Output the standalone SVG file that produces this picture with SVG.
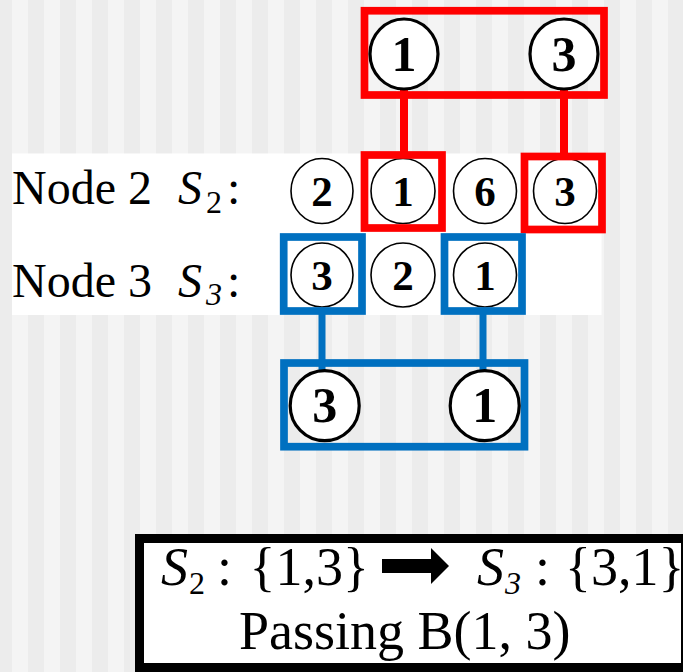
<svg xmlns="http://www.w3.org/2000/svg" width="683" height="672" viewBox="0 0 683 672">
<style>
text{font-family:"Liberation Serif","Times New Roman",serif;fill:#000}
.dg{font-weight:bold;text-anchor:middle}
.big{font-size:50px}
.sm{font-size:43px}
.lbl{font-size:48px}
.it{font-style:italic}
.red{fill:none;stroke:#ff0000;stroke-width:7.7}
.blue{fill:none;stroke:#0070c0;stroke-width:7.7}
.cb{fill:#fff;stroke:#000;stroke-width:3.2}
.cs{fill:#fff;stroke:#000;stroke-width:1.6}
.box{font-size:54px}
</style>
<defs>
<pattern id="stripes" patternUnits="userSpaceOnUse" x="-4" y="0" width="32" height="672">
<rect x="0" y="0" width="16" height="672" fill="#ececec"/>
<rect x="16" y="0" width="16" height="672" fill="#f4f4f4"/>
</pattern>
</defs>
<rect x="0" y="0" width="683" height="672" fill="url(#stripes)"/>
<rect x="12" y="153.5" width="589.5" height="161.5" fill="#fff"/>

<g id="labels">
<text class="lbl" x="12" y="203.5">Node 2</text>
<text class="lbl it" x="178" y="203.5">S</text>
<text x="206" y="213" style="font-size:32px">2</text>
<text class="lbl" x="227" y="203.5">:</text>
<text class="lbl" x="12" y="297">Node 3</text>
<text class="lbl it" x="178" y="297">S</text>
<text class="it" x="206" y="305" style="font-size:32px">3</text>
<text class="lbl" x="227" y="297">:</text>
</g>

<g id="connectors">
<line x1="404" y1="89" x2="404" y2="156" stroke="#ff0000" stroke-width="8"/>
<line x1="564" y1="89" x2="564" y2="157" stroke="#ff0000" stroke-width="8"/>
<line x1="322" y1="308" x2="322" y2="372" stroke="#0070c0" stroke-width="7"/>
<line x1="483" y1="308" x2="483" y2="372" stroke="#0070c0" stroke-width="7"/>
</g>

<g id="red-set-top">
<rect class="red" x="364.5" y="10.75" width="239.5" height="84.25"/>
<ellipse class="cb" cx="404" cy="54" rx="34" ry="35"/>
<text class="dg big" x="404" y="71">1</text>
<ellipse class="cb" cx="564" cy="54" rx="34" ry="35"/>
<text class="dg big" x="564" y="71">3</text>
</g>

<g id="node2-row">
<ellipse class="cs" cx="322" cy="191" rx="31" ry="32.5"/>
<text class="dg sm" x="322" y="206">2</text>
<ellipse class="cs" cx="403" cy="191" rx="32" ry="32.5"/>
<text class="dg sm" x="403" y="206">1</text>
<ellipse class="cs" cx="485" cy="191" rx="31.5" ry="32.5"/>
<text class="dg sm" x="485" y="206">6</text>
<ellipse class="cs" cx="565" cy="191" rx="31.5" ry="32.5"/>
<text class="dg sm" x="565" y="206">3</text>
<rect class="red" x="364.5" y="155" width="77.5" height="73"/>
<rect class="red" x="524.5" y="156.5" width="77.5" height="73"/>
</g>

<g id="node3-row">
<ellipse class="cs" cx="322" cy="275" rx="31" ry="32"/>
<text class="dg sm" x="322" y="290">3</text>
<ellipse class="cs" cx="403" cy="275" rx="32" ry="32"/>
<text class="dg sm" x="403" y="290">2</text>
<ellipse class="cs" cx="485" cy="275" rx="31.5" ry="32"/>
<text class="dg sm" x="485" y="290">1</text>
<rect class="blue" x="283.7" y="237" width="78.3" height="74"/>
<rect class="blue" x="444.5" y="237" width="77.5" height="74"/>
</g>

<g id="blue-set-bottom">
<rect class="blue" x="284" y="363" width="240.5" height="83.7"/>
<ellipse class="cb" cx="324.7" cy="405.7" rx="34.5" ry="35"/>
<text class="dg big" x="324.7" y="422">3</text>
<ellipse class="cb" cx="484.7" cy="405.7" rx="34.5" ry="35"/>
<text class="dg big" x="484.7" y="422">1</text>
</g>

<g id="result-box">
<rect x="139.5" y="538.5" width="546" height="129" fill="#fff" stroke="#000" stroke-width="9"/>
<text class="box it" x="161" y="585">S</text>
<text x="189" y="593.5" style="font-size:32px">2</text>
<text class="box" x="217" y="585">:</text>
<text class="box" x="249.5" y="585">{1,3}</text>
<path d="M382,559 H431 V548 L449,566 L431,584 V573 H382 Z" fill="#000"/>
<text class="box it" x="477" y="585">S</text>
<text class="it" x="505" y="593.5" style="font-size:32px">3</text>
<text class="box" x="535" y="585">:</text>
<text class="box" x="565" y="585">{3,1}</text>
<text class="box" x="239" y="648.5">Passing B(1, 3)</text>
</g>
</svg>
